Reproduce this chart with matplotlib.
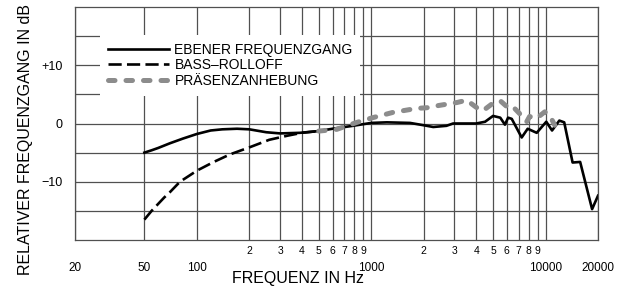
import numpy as np
import matplotlib
matplotlib.use('Agg')
import matplotlib.pyplot as plt

plt.rcParams['font.family'] = ['Liberation Sans', 'DejaVu Sans']

# Frequency responses (Hz, dB)
flat_f = [50, 55, 60, 70, 83, 100, 120, 140, 170, 200, 250, 300, 390, 500, 600, 785,
          1000, 1230, 1670, 2000, 2270, 2700, 2950, 4000, 4500, 5000, 5500, 5850,
          6100, 6400, 7300, 7900, 8900, 10100, 10900, 12000, 12800, 14300, 15800,
          18500, 20000]
flat_db = [-5.0, -4.6, -4.2, -3.4, -2.6, -1.8, -1.2, -1.0, -0.9, -1.0, -1.5, -1.7,
           -1.6, -1.3, -0.9, -0.4, 0.1, 0.2, 0.1, -0.3, -0.6, -0.4, 0.0, 0.0, 0.3,
           1.3, 1.0, -0.2, 1.0, 0.8, -2.4, -0.9, -1.6, 0.3, -1.2, 0.5, 0.2, -6.7,
           -6.6, -14.7, -12.4]

bass_f = [50, 55, 60, 65, 70, 80, 90, 100, 125, 155, 200, 260, 330, 400, 500]
bass_db = [-16.5, -15.0, -13.8, -12.7, -11.8, -10.0, -9.0, -8.1, -6.6, -5.3, -4.1,
           -2.8, -2.1, -1.6, -1.3]

pres_f = [500, 635, 830, 1020, 1330, 1830, 2080, 2450, 3100, 3530, 4040, 4380,
          5000, 5500, 6000, 6400, 7100, 7800, 8100, 8900, 9900, 10600, 11300]
pres_db = [-1.3, -1.0, 0.2, 1.0, 1.9, 2.6, 2.7, 3.1, 3.6, 4.0, 2.7, 2.2, 3.5, 3.9,
           2.9, 3.1, 1.7, 0.3, 1.2, 0.9, 2.0, 1.3, -0.3]

labels = ['EBENER FREQUENZGANG', 'BASS\u2013ROLLOFF', 'PRÄSENZANHEBUNG']

major_x = [20, 50, 100, 1000, 10000, 20000]
minor_x = [200, 300, 400, 500, 600, 700, 800, 900,
           2000, 3000, 4000, 5000, 6000, 7000, 8000, 9000]
minor_lab = ['2', '3', '4', '5', '6', '7', '8', '9'] * 2
major_y = [-10, 0, 10]
major_ylab = ['\u221210', '0', '+10']
minor_y = [-15, -5, 5, 15]

grid_c = '#505050'

fig = plt.figure(figsize=(6.28, 2.9), dpi=100)
ax = fig.add_axes([75/628, 1 - 240/290, 523/628, 233/290])

ax.plot(flat_f, flat_db, color='black', lw=1.9, label=labels[0])
ax.plot(bass_f, bass_db, color='black', lw=1.9, dashes=(5, 2), label=labels[1])
ax.plot(pres_f, pres_db, color='#8c8c8c', lw=3.6, dashes=(1.3, 2.2),
        dash_capstyle='round', label=labels[2])

ax.set_xscale('log')
ax.set_xlim(20, 20000)
ax.set_ylim(-20, 20)

ax.set_xticks(major_x)
ax.set_xticklabels([str(v) for v in major_x])
ax.set_xticks(minor_x, minor=True)
ax.set_xticklabels(minor_lab, minor=True)
ax.set_yticks(major_y)
ax.set_yticklabels(major_ylab)
ax.set_yticks(minor_y, minor=True)

ax.tick_params(axis='x', which='major', length=0, pad=16, labelsize=8.5)
ax.tick_params(axis='x', which='minor', length=0, pad=4, labelsize=7.5)
ax.tick_params(axis='y', which='both', length=0, pad=9, labelsize=9)
ax.grid(which='both', color=grid_c, lw=0.9)
for s in ax.spines.values():
    s.set_color(grid_c)
    s.set_linewidth(0.9)

ax.set_xlabel('FREQUENZ IN Hz', fontsize=11.5)
ax.xaxis.set_label_coords(0.426, -0.135)
ax.set_ylabel('RELATIVER FREQUENZGANG IN dB', fontsize=11.5)
ax.yaxis.set_label_coords(-0.08, 0.43)

leg = ax.legend(loc='upper left', bbox_to_anchor=(0.048, 0.88), fontsize=10,
                handlelength=4.4, handletextpad=0.4, labelspacing=0.12,
                borderpad=0.55, borderaxespad=0, frameon=True, fancybox=False,
                framealpha=1, facecolor='white', edgecolor='none')

fig.savefig('out.png', dpi=100)
